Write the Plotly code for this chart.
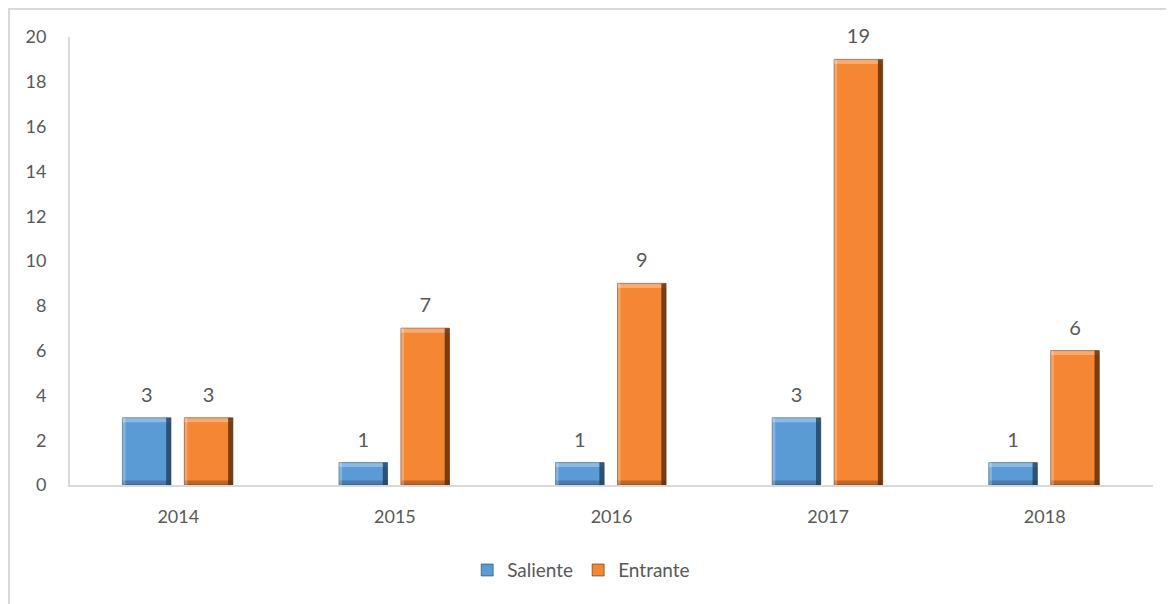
import plotly.graph_objects as go

years = ["2014", "2015", "2016", "2017", "2018"]
saliente = [3, 1, 1, 3, 1]
entrante = [3, 7, 9, 19, 6]

# colours for bar face and the darker bevel edge
blue_face, blue_edge = "#5B9BD5", "#1F3F5E"
orange_face, orange_edge = "#F58634", "#5A2A08"

xpos = list(range(len(years)))
bar_w = 0.224
edge_h = 0.2  # bevel band height in data units

fig = go.Figure()

for name, vals, off, face, edge in [
    ("Saliente", saliente, -0.258, blue_face, blue_edge),
    ("Entrante", entrante, 0.028, orange_face, orange_edge),
]:
    # main bar
    fig.add_trace(go.Bar(
        x=xpos, y=vals, name=name, width=bar_w, offset=off,
        marker=dict(color=face, line=dict(color=edge, width=0.6)),
    ))
    # top highlight band
    fig.add_trace(go.Bar(
        x=xpos, y=[edge_h] * len(vals), base=[v - edge_h for v in vals],
        width=bar_w, offset=off,
        marker=dict(color="white", opacity=0.3, line=dict(width=0)),
        showlegend=False, hoverinfo="skip",
    ))
    # bottom shadow band
    fig.add_trace(go.Bar(
        x=xpos, y=[edge_h] * len(vals), width=bar_w, offset=off,
        marker=dict(color=edge, opacity=0.35, line=dict(width=0)),
        showlegend=False, hoverinfo="skip",
    ))
    # darker right edge strip
    fig.add_trace(go.Bar(
        x=xpos, y=vals, width=0.022, offset=off + bar_w - 0.022,
        marker=dict(color=edge, opacity=0.8, line=dict(width=0)),
        showlegend=False, hoverinfo="skip",
    ))
    # lighter left edge strip
    fig.add_trace(go.Bar(
        x=xpos, y=vals, width=0.014, offset=off,
        marker=dict(color="white", opacity=0.25, line=dict(width=0)),
        showlegend=False, hoverinfo="skip",
    ))
    # value labels above bars
    fig.add_trace(go.Scatter(
        x=[p + off + bar_w / 2 for p in xpos], y=vals, mode="markers+text",
        marker=dict(size=16, color="rgba(0,0,0,0)"),
        text=[str(v) for v in vals], textposition="top center",
        textfont=dict(family="Lato, sans-serif", size=20, color="#595959"),
        showlegend=False, hoverinfo="skip", cliponaxis=False,
    ))

fig.update_layout(
    barmode="overlay",
    width=1174, height=604,
    margin=dict(l=62, r=29, t=29, b=127),
    paper_bgcolor="white", plot_bgcolor="white",
    font=dict(family="Lato, Liberation Sans, sans-serif", color="#595959", size=18),
    legend=dict(orientation="h", x=0.472, xanchor="center", y=-0.19, yanchor="middle",
                font=dict(size=19, color="#595959"), itemwidth=30, traceorder="normal"),
    xaxis=dict(range=[-0.5, 4.5], tickvals=xpos, ticktext=years,
               showgrid=False, showline=True, linecolor="#D9D9D9", linewidth=2,
               ticks="", zeroline=False, tickfont=dict(size=18, color="#595959"),
               ticklabelstandoff=14),
    yaxis=dict(range=[0, 20], dtick=2, showgrid=False, showline=True,
               linecolor="#D9D9D9", linewidth=2, ticks="", zeroline=False,
               tickfont=dict(size=18, color="#595959"), ticklabelstandoff=18),
    shapes=[dict(type="rect", xref="paper", yref="paper",
                 x0=-0.0563, x1=1.04, y0=-0.32, y1=1.0625,
                 line=dict(color="#D9D9D9", width=2), fillcolor="rgba(0,0,0,0)",
                 layer="below")],
)

fig.write_html("out.html")
